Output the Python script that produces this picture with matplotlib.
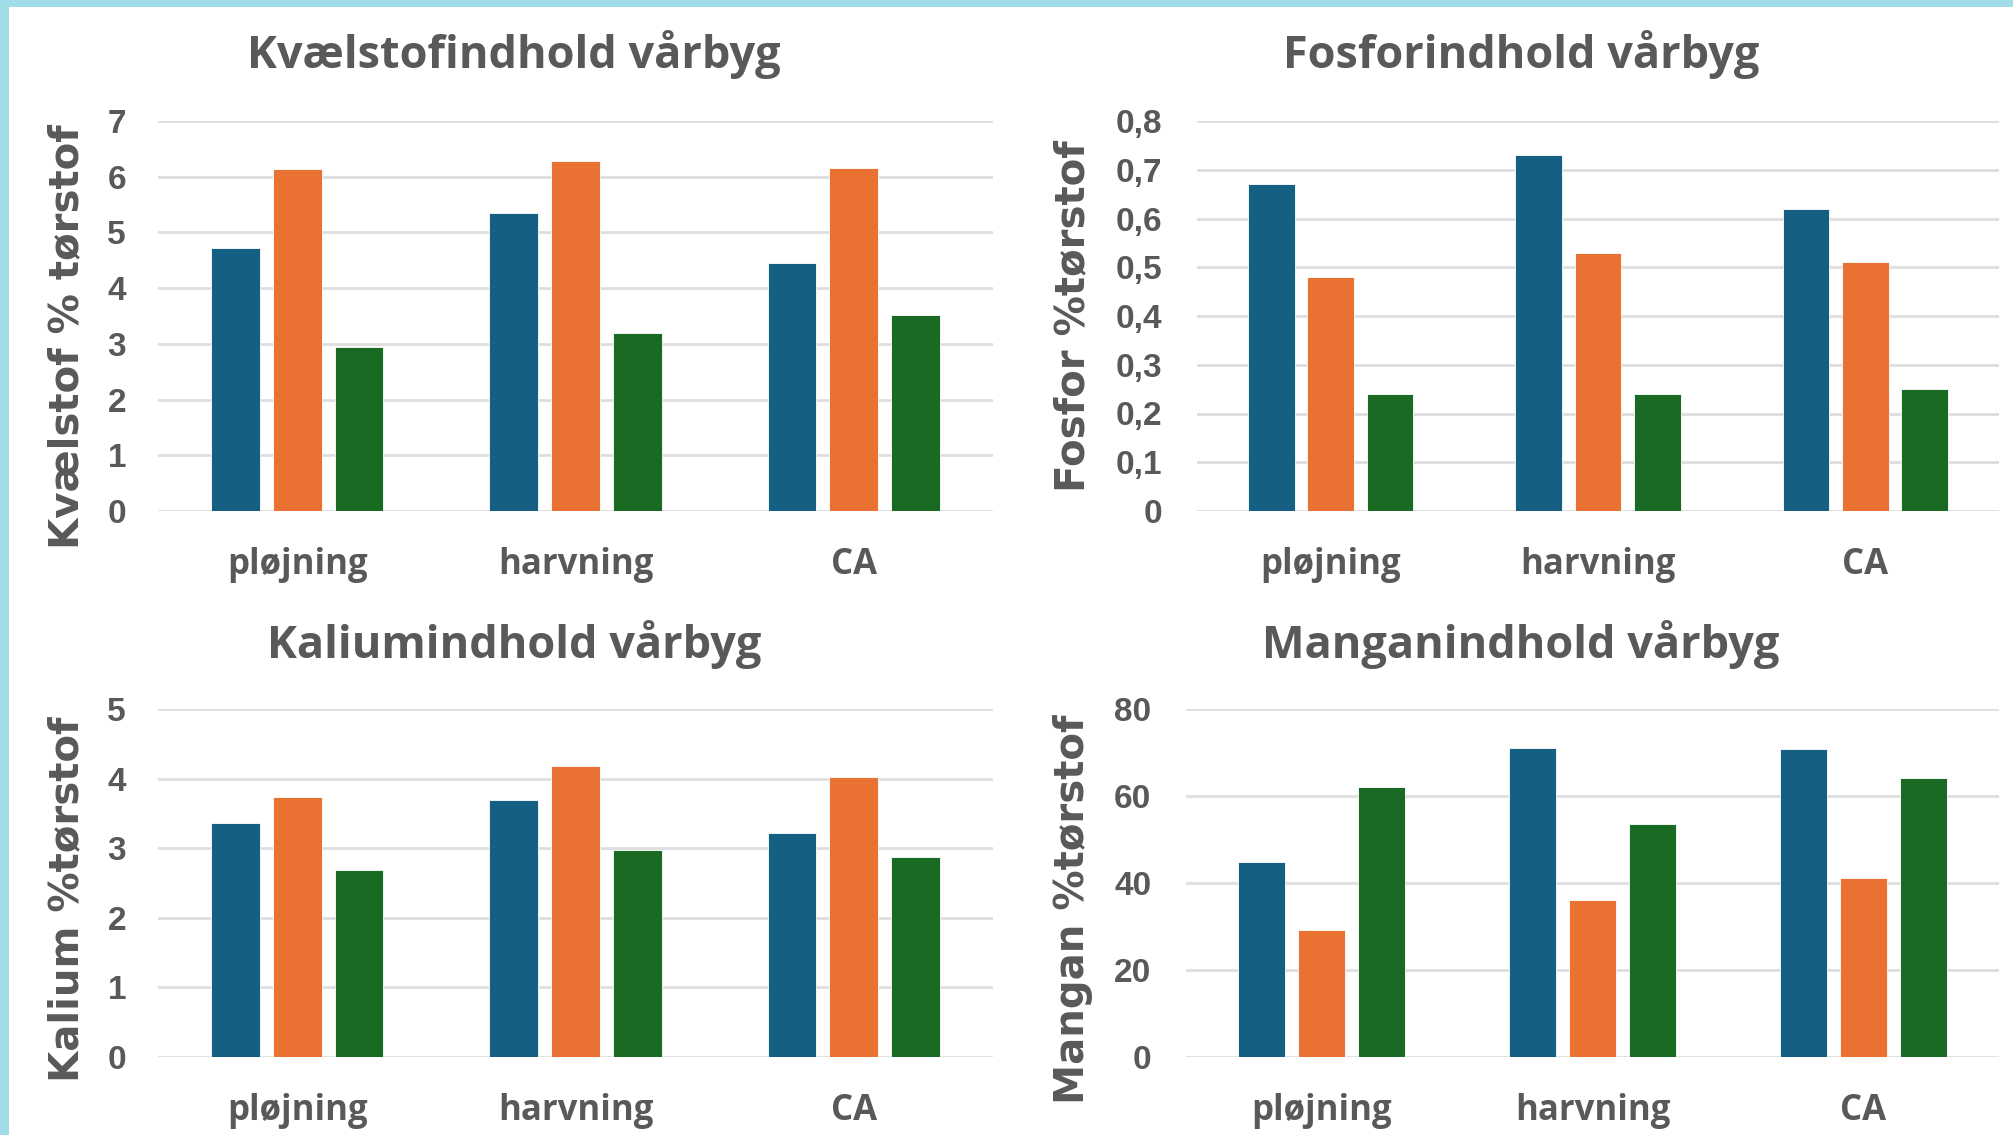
import matplotlib
matplotlib.use("Agg")
import matplotlib.pyplot as plt
from matplotlib.patches import Rectangle
import numpy as np

# --- data -------------------------------------------------------------
categories = ["pløjning", "harvning", "CA"]

kvaelstof_blue = [4.72, 5.35, 4.46]
kvaelstof_orange = [6.13, 6.29, 6.16]
kvaelstof_green = [2.94, 3.19, 3.51]

fosfor_blue = [0.67, 0.73, 0.62]
fosfor_orange = [0.48, 0.53, 0.51]
fosfor_green = [0.24, 0.24, 0.25]

kalium_blue = [3.36, 3.69, 3.22]
kalium_orange = [3.74, 4.18, 4.02]
kalium_green = [2.68, 2.97, 2.87]

mangan_blue = [44.9, 71.1, 70.8]
mangan_orange = [29.1, 36.2, 41.2]
mangan_green = [62.1, 53.6, 64.2]

kvaelstof_ticks = [0, 1, 2, 3, 4, 5, 6, 7]
kvaelstof_ticklabels = ["0", "1", "2", "3", "4", "5", "6", "7"]
fosfor_ticks = [0, 0.1, 0.2, 0.3, 0.4, 0.5, 0.6, 0.7, 0.8]
fosfor_ticklabels = ["0", "0,1", "0,2", "0,3", "0,4", "0,5", "0,6", "0,7", "0,8"]
kalium_ticks = [0, 1, 2, 3, 4, 5]
kalium_ticklabels = ["0", "1", "2", "3", "4", "5"]
mangan_ticks = [0, 20, 40, 60, 80]
mangan_ticklabels = ["0", "20", "40", "60", "80"]

titles = ["Kvælstofindhold vårbyg", "Fosforindhold vårbyg",
          "Kaliumindhold vårbyg", "Manganindhold vårbyg"]
ylabels = ["Kvælstof % tørstof", "Fosfor %tørstof",
           "Kalium %tørstof", "Mangan %tørstof"]

# --- style ------------------------------------------------------------
C_BLUE = "#156082"
C_ORANGE = "#E97132"
C_GREEN = "#196B24"
TEXT = "#595959"
GRID = "#DEDEDE"
FRAME = "#A0DDE8"

W, H = 2013, 1135
DPI = 100
fig = plt.figure(figsize=(W / DPI, H / DPI), dpi=DPI)
fig.patch.set_facecolor(FRAME)
fig.patches.append(Rectangle((9 / W, 0), 1, 1 - 7 / H, transform=fig.transFigure,
                             facecolor="white", edgecolor="none", zorder=-10))

TITLE_FONT = ["Open Sans", "Lato", "DejaVu Sans"]
TICK_FONT = ["Liberation Sans", "DejaVu Sans"]
YLABEL_FONT = ["DejaVu Sans"]


def px_axes(left, right, top, bottom):
    return fig.add_axes([left / W, 1 - bottom / H, (right - left) / W, (bottom - top) / H])


panels = [
    dict(box=(158, 993, 121, 511), vals=(kvaelstof_blue, kvaelstof_orange, kvaelstof_green),
         ticks=kvaelstof_ticks, labels=kvaelstof_ticklabels,
         title_xy=(514, 68), ylab_xy=(67, 337)),
    dict(box=(1197, 1999, 121, 511), vals=(fosfor_blue, fosfor_orange, fosfor_green),
         ticks=fosfor_ticks, labels=fosfor_ticklabels,
         title_xy=(1521, 68), ylab_xy=(1073, 316)),
    dict(box=(158, 993, 709, 1057), vals=(kalium_blue, kalium_orange, kalium_green),
         ticks=kalium_ticks, labels=kalium_ticklabels,
         title_xy=(514, 658), ylab_xy=(67, 899)),
    dict(box=(1186, 1999, 709, 1057), vals=(mangan_blue, mangan_orange, mangan_green),
         ticks=mangan_ticks, labels=mangan_ticklabels,
         title_xy=(1521, 658), ylab_xy=(1073, 909)),
]

x = np.arange(len(categories))
bar_w = 0.175
step = 0.222
colors = [C_BLUE, C_ORANGE, C_GREEN]

for i, p in enumerate(panels):
    ax = px_axes(*p["box"])
    for k, (vals, col) in enumerate(zip(p["vals"], colors)):
        ax.bar(x + (k - 1) * step, vals, width=bar_w, color=col,
               edgecolor="white", linewidth=0.6, zorder=3)
    ax.set_xlim(-0.5, len(categories) - 0.5)
    ax.set_ylim(p["ticks"][0], p["ticks"][-1])
    ax.set_yticks(p["ticks"])
    ax.set_yticklabels(p["labels"], fontfamily=TICK_FONT, fontweight="bold",
                       fontsize=24, color=TEXT)
    ax.set_xticks(x)
    ax.set_xticklabels(categories, fontfamily=TITLE_FONT, fontweight="bold",
                       fontsize=25, color=TEXT)
    ax.tick_params(axis="y", length=0, pad=23 if i % 2 == 0 else 25)
    ax.tick_params(axis="x", length=0, pad=26)
    ax.yaxis.grid(True, color=GRID, linewidth=2, zorder=0)
    ax.set_axisbelow(True)
    ax.margins(y=0)
    for s in ax.spines.values():
        s.set_visible(False)
    ax.patch.set_alpha(0)

    tx, ty = p["title_xy"]
    fig.text(tx / W, 1 - ty / H, titles[i], ha="center", va="baseline",
             fontfamily=TITLE_FONT, fontweight="bold", fontsize=32.5, color=TEXT)
    lx, ly = p["ylab_xy"]
    fig.text(lx / W, 1 - ly / H, ylabels[i], ha="center", va="center", rotation=90,
             fontfamily=YLABEL_FONT, fontweight="bold", fontsize=29, color=TEXT)

fig.savefig("out.png", dpi=DPI, facecolor=fig.get_facecolor())
